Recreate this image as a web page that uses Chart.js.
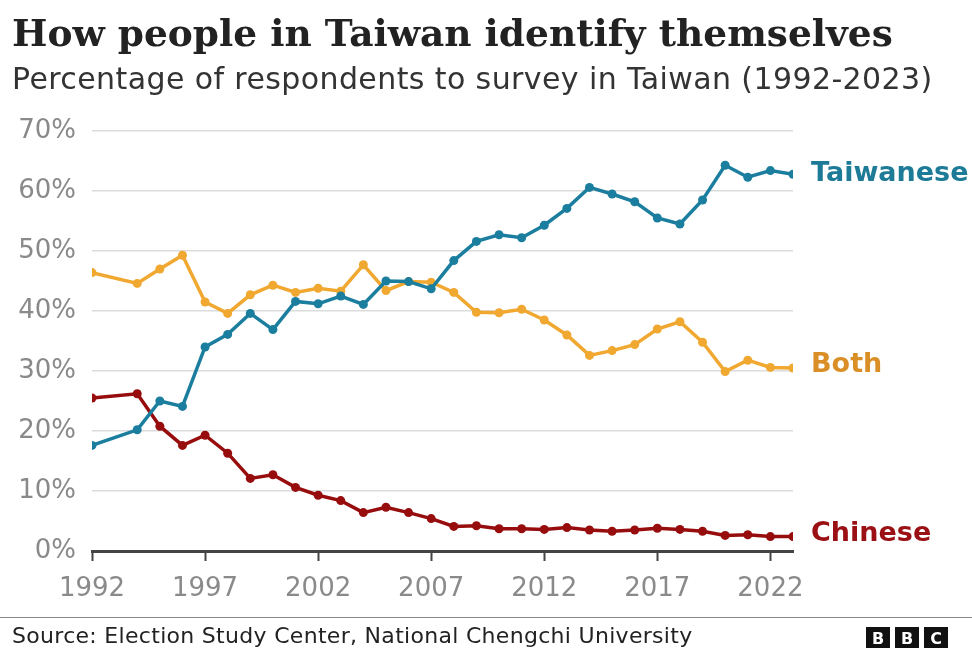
<!DOCTYPE html>
<html>
<head>
<meta charset="utf-8">
<script src="https://cdn.jsdelivr.net/npm/chart.js@4.4.0/dist/chart.umd.min.js"></script>
<style>
  html, body { margin: 0; padding: 0; background: #fff; }
  #wrap { position: relative; width: 972px; height: 648px; overflow: hidden; }
  #myChart { position: absolute; left: 0; top: 0; }
  .title { position: absolute; left: 12px; top: 11px; font-family: 'DejaVu Serif', serif; font-weight: bold; font-size: 37.5px; line-height: 44px; color: #222; white-space: nowrap; }
  .subtitle { position: absolute; left: 12px; top: 61px; font-family: 'DejaVu Sans', sans-serif; font-size: 30px; letter-spacing: 0.4px; line-height: 36px; color: #333; white-space: nowrap; }
  .rule { position: absolute; left: 0; top: 617px; width: 972px; height: 1px; background: #888; }
  .source { position: absolute; left: 12px; top: 623px; font-family: 'DejaVu Sans', sans-serif; font-size: 22px; letter-spacing: 0.3px; line-height: 26px; color: #222; white-space: nowrap; }
  .bbc { position: absolute; left: 866px; top: 627px; display: flex; gap: 5px; }
  .bbc span { display: block; width: 24px; height: 24px; background: #111; color: #fff; font-family: 'DejaVu Sans', sans-serif; font-weight: bold; font-size: 16px; line-height: 24px; text-align: center; }
</style>
</head>
<body>
<div id="wrap">
  <canvas id="myChart" width="972" height="648"></canvas>
  <div class="title">How people in Taiwan identify themselves</div>
  <div class="subtitle">Percentage of respondents to survey in Taiwan (1992-2023)</div>
  <div class="rule"></div>
  <div class="source">Source: Election Study Center, National Chengchi University</div>
  <div class="bbc"><span>B</span><span>B</span><span>C</span></div>
</div>
<script>
  // Survey years (no 1993 survey)
  const years = [1992, 1994, 1995, 1996, 1997, 1998, 1999, 2000, 2001, 2002,
    2003, 2004, 2005, 2006, 2007, 2008, 2009, 2010, 2011, 2012,
    2013, 2014, 2015, 2016, 2017, 2018, 2019, 2020, 2021, 2022, 2023];

  const taiwanese = [17.6, 20.2, 25.0, 24.1, 34.0, 36.1, 39.6, 36.9, 41.6, 41.2,
    42.5, 41.1, 45.0, 44.9, 43.7, 48.4, 51.6, 52.7, 52.2, 54.3,
    57.1, 60.6, 59.5, 58.2, 55.5, 54.5, 58.5, 64.3, 62.3, 63.4, 62.8];

  const both = [46.4, 44.6, 47.0, 49.3, 41.5, 39.6, 42.7, 44.3, 43.1, 43.8,
    43.3, 47.7, 43.4, 44.9, 44.8, 43.1, 39.8, 39.7, 40.3, 38.5,
    36.0, 32.6, 33.4, 34.4, 37.0, 38.2, 34.8, 29.9, 31.8, 30.6, 30.5];

  const chinese = [25.5, 26.2, 20.8, 17.6, 19.3, 16.3, 12.1, 12.7, 10.6, 9.3,
    8.4, 6.4, 7.3, 6.4, 5.4, 4.1, 4.2, 3.7, 3.7, 3.6,
    3.9, 3.5, 3.3, 3.5, 3.8, 3.6, 3.3, 2.6, 2.7, 2.4, 2.4];

  const xTicks = [1992, 1997, 2002, 2007, 2012, 2017, 2022];
  const yTicks = [0, 10, 20, 30, 40, 50, 60, 70];

  const toPoints = (vals) => years.map((y, i) => ({ x: y, y: vals[i] }));

  const makeSet = (label, vals, color, labelColor, labelDy) => ({
    label: label,
    data: toPoints(vals),
    borderColor: color,
    backgroundColor: color,
    borderWidth: 3.5,
    pointRadius: 4.5,
    pointHoverRadius: 4.5,
    pointBorderWidth: 0,
    tension: 0,
    labelColor: labelColor,
    labelDy: labelDy
  });

  // Draw series name next to the last point
  const endLabels = {
    id: 'endLabels',
    afterDatasetsDraw(chart) {
      const ctx = chart.ctx;
      ctx.save();
      ctx.font = 'bold 27px "DejaVu Sans", sans-serif';
      ctx.textBaseline = 'middle';
      ctx.textAlign = 'left';
      chart.data.datasets.forEach((ds, i) => {
        const meta = chart.getDatasetMeta(i);
        const last = meta.data[meta.data.length - 1];
        ctx.fillStyle = ds.labelColor;
        ctx.fillText(ds.label, last.x + 18, last.y + ds.labelDy);
      });
      ctx.restore();
    }
  };

  const config = {
    type: 'line',
    data: {
      datasets: [
        makeSet('Taiwanese', taiwanese, '#1b7e9e', '#1d7b98', 0),
        makeSet('Both', both, '#f1a830', '#d98f26', -3),
        makeSet('Chinese', chinese, '#970d0d', '#9a1014', -3)
      ]
    },
    options: {
      responsive: false,
      animation: false,
      layout: { padding: { left: 0, right: 179, top: 131, bottom: 47 } },
      plugins: { legend: { display: false }, tooltip: { enabled: false } },
      scales: {
        x: {
          type: 'linear',
          min: 1992,
          max: 2023,
          afterBuildTicks: (scale) => { scale.ticks = xTicks.map(v => ({ value: v })); },
          afterFit: (scale) => { scale.height = 50; },
          border: { display: true, color: '#444', width: 3 },
          grid: { drawOnChartArea: false, drawTicks: true, tickLength: 10, color: '#444', tickWidth: 2 },
          ticks: {
            padding: 13,
            color: '#8a8a8a',
            font: { family: '"DejaVu Sans", sans-serif', size: 26 },
            callback: (v) => String(v)
          }
        },
        y: {
          min: 0,
          max: 70,
          afterBuildTicks: (scale) => { scale.ticks = yTicks.map(v => ({ value: v })); },
          afterFit: (scale) => { scale.width = 92; },
          border: { display: false },
          grid: { color: '#dcdcdc', lineWidth: 1.5, drawTicks: false },
          ticks: {
            padding: 16,
            color: '#8a8a8a',
            font: { family: '"DejaVu Sans", sans-serif', size: 26 },
            callback: (v) => v + '%'
          }
        }
      }
    },
    plugins: [endLabels]
  };

  const ctx = document.getElementById('myChart').getContext('2d');
  const myChart = new Chart(ctx, config);
</script>
</body>
</html>
